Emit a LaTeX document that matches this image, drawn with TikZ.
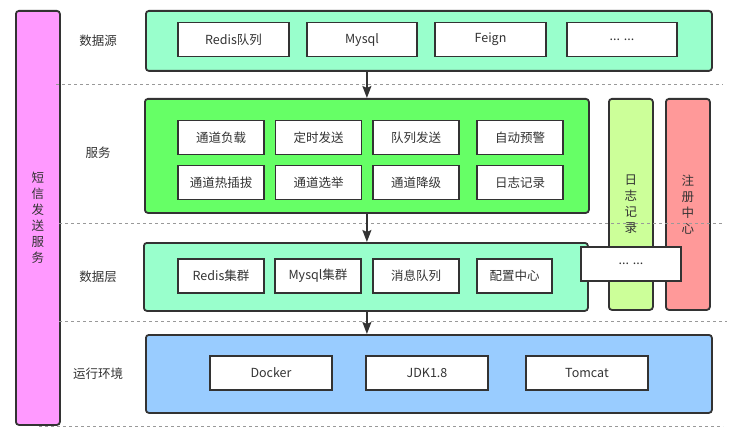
\documentclass[tikz,border=0pt]{standalone}
\usepackage{fontspec}
\setmainfont{Noto Sans CJK SC}
\usetikzlibrary{positioning,arrows.meta}
\definecolor{linegray}{HTML}{333333}
\definecolor{dashgray}{HTML}{999999}
\definecolor{mint}{HTML}{99FFCC}
\definecolor{svcgreen}{HTML}{66FF66}
\definecolor{loggreen}{HTML}{CCFF99}
\definecolor{regred}{HTML}{FF9999}
\definecolor{envblue}{HTML}{99CCFF}
\definecolor{sidepink}{HTML}{FF99FF}

\begin{document}
\begin{tikzpicture}[
    x=1pt, y=-1pt,
    font=\fontsize{12.5}{16}\selectfont,
    text=linegray,
    layer/.style={rectangle, draw=linegray, line width=1.8pt, rounded corners=3pt, anchor=north west, inner sep=0pt},
    item/.style={rectangle, draw=linegray, line width=1.8pt, fill=white, minimum height=34pt, inner sep=0pt},
    vbar/.style={layer, align=center},
    tag/.style={font=\fontsize{12.5}{15}\selectfont},
    divider/.style={dashgray, dashed, line width=0.8pt},
    arrow/.style={draw=linegray, line width=1.8pt, -{Stealth[length=12pt, width=9pt, inset=2pt]}}
]
    \useasboundingbox (0,0) rectangle (742,436);

    % Side bars
    \node [vbar, fill=sidepink, minimum width=44pt, minimum height=414pt] (sms) at (15,10) {};
    \node [align=center] at (sms.center) {短\\信\\发\\送\\服\\务};
    \node [vbar, fill=loggreen, minimum width=44pt, minimum height=211pt] (log) at (608,98) {};
    \node [align=center] at (log.center) {日\\志\\记\\录};
    \node [vbar, fill=regred, minimum width=44pt, minimum height=211pt] (reg) at (665,98) {};
    \node [align=center] at (reg.center) {注\\册\\中\\心};

    % Layer dividers
    \draw [divider] (56,84) -- (723,84);
    \draw [divider] (59,223) -- (723,223);
    \draw [divider] (59,321) -- (727,321);
    \draw [divider] (39,426) -- (723,426);

    % Layer labels
    \node [tag] (lsrc) at (98,41) {数据源};
    \node [tag] (lsvc) at (98,153) {服务};
    \node [tag] (ldata) at (98,277) {数据层};
    \node [tag] (lenv) at (98,374) {运行环境};

    % Data source layer
    \node [layer, fill=mint, minimum width=566pt, minimum height=60pt] (src) at (145,10) {};
    \node [item, minimum width=111pt] (s1) at (233.5,39.5) {Redis队列};
    \node [item, minimum width=110pt] (s2) at (362,39.5) {Mysql};
    \node [item, minimum width=111pt] (s3) at (490.5,39.5) {Feign};
    \node [item, minimum width=110pt] (s4) at (622,39.5) {... ...};

    % Service layer
    \node [layer, fill=svcgreen, minimum width=444pt, minimum height=114pt] (svc) at (144,98) {};
    \node [item, minimum width=86pt] (v1) at (221,137.5) {通道负载};
    \node [item, minimum width=86pt] (v2) at (318.5,137.5) {定时发送};
    \node [item, minimum width=86pt] (v3) at (416,137.5) {队列发送};
    \node [item, minimum width=86pt] (v4) at (520,137.5) {自动预警};
    \node [item, minimum width=86pt] (v5) at (221,182.5) {通道热插拔};
    \node [item, minimum width=86pt] (v6) at (318.5,182.5) {通道选举};
    \node [item, minimum width=86pt] (v7) at (416,182.5) {通道降级};
    \node [item, minimum width=86pt] (v8) at (520,182.5) {日志记录};

    % Data layer
    \node [layer, fill=mint, minimum width=444pt, minimum height=68pt] (data) at (143,242) {};
    \node [item, minimum width=86pt] (d1) at (221,276) {Redis集群};
    \node [item, minimum width=86pt] (d2) at (318,276) {Mysql集群};
    \node [item, minimum width=86pt] (d3) at (416,276) {消息队列};
    \node [item, minimum width=75pt] (d4) at (514.5,276) {配置中心};

    % Runtime layer
    \node [layer, fill=envblue, minimum width=566pt, minimum height=78pt] (env) at (145,334) {};
    \node [item, minimum width=122pt] (e1) at (271,373) {Docker};
    \node [item, minimum width=122pt] (e2) at (427,373) {JDK1.8};
    \node [item, minimum width=122pt] (e3) at (587,373) {Tomcat};

    % Extra box
    \node [item, minimum width=100pt] (more) at (631,264) {... ...};

    % Arrows
    \draw [arrow] (src.south -| svc.north) -- (svc.north);
    \draw [arrow] (svc.south) -- (svc.south |- data.north);
    \draw [arrow] (svc.south |- data.south) -- (svc.south |- env.north);
\end{tikzpicture}
\end{document}
